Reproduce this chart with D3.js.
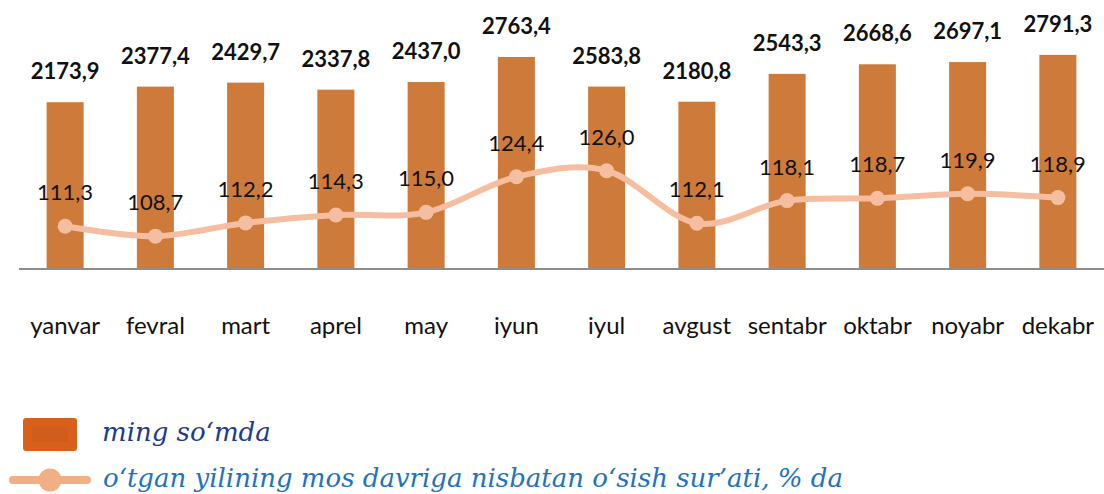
<!DOCTYPE html>
<html><head><meta charset="utf-8">
<script src="https://cdn.jsdelivr.net/npm/d3@7"></script>
<style>
html,body{margin:0;padding:0;background:#fff;}
svg{display:block;}
</style></head>
<body>
<svg id="chart" width="1104" height="494"></svg>
<script>
const months = ["yanvar","fevral","mart","aprel","may","iyun","iyul","avgust","sentabr","oktabr","noyabr","dekabr"];
// bar heights as drawn in the reference (the iyul bar is drawn at about 2378 there)
const barValues = [2173.9,2377.4,2429.7,2337.8,2437.0,2763.4,2378.0,2180.8,2543.3,2668.6,2697.1,2791.3];
const barLabels = ["2173,9","2377,4","2429,7","2337,8","2437,0","2763,4","2583,8","2180,8","2543,3","2668,6","2697,1","2791,3"];
const growth = [111.3,108.7,112.2,114.3,115.0,124.4,126.0,112.1,118.1,118.7,119.9,118.9];
const legendLabels = ["ming so\u2018mda","o\u2018tgan yilining mos davriga nisbatan o\u2018sish sur\u2019ati, % da"];

const fmt = v => v.toFixed(1).replace(".", ",");
const svg = d3.select("#chart");

const x = d3.scaleBand().domain(months).range([20, 1103]).paddingInner(0.59).paddingOuter(0.295);
const y = d3.scaleLinear().domain([0, 3500]).range([269, 0.5]);
const y2 = d3.scaleLinear().domain([100, 171.2]).range([269, 0]);

// bars
svg.append("g").selectAll("rect").data(months).join("rect")
  .attr("x", d => x(d))
  .attr("width", x.bandwidth())
  .attr("y", (d,i) => y(barValues[i]))
  .attr("height", (d,i) => y(0) - y(barValues[i]))
  .attr("fill", "#CD7A3A");

// axis
const ax = svg.append("g").attr("transform", "translate(0,269)")
  .call(d3.axisBottom(x).tickSize(0).tickPadding(0).tickSizeOuter(0));
ax.select(".domain").attr("stroke", "#8E8E8E").attr("stroke-width", 2.2).attr("d", "M19,0H1104");
ax.selectAll(".tick text")
  .attr("y", 65).attr("dy", 0)
  .attr("font-family", "Lato, 'Open Sans', sans-serif")
  .attr("font-size", 24).attr("fill", "#111");

// bar labels
svg.append("g").selectAll("text").data(months).join("text")
  .attr("x", d => x(d) + x.bandwidth()/2)
  .attr("y", (d,i) => y(barValues[i]) - 23)
  .attr("text-anchor", "middle")
  .attr("font-family", "Lato, sans-serif")
  .attr("font-weight", "bold").attr("font-size", 22).attr("fill", "#111")
  .text((d,i) => barLabels[i]);

// line
const cx = d => x(d) + x.bandwidth()/2;
const line = d3.line().x((d,i) => cx(months[i])).y(d => y2(d)).curve(d3.curveCatmullRom.alpha(0));
svg.append("path").datum(growth).attr("d", line)
  .attr("fill", "none").attr("stroke", "#F5BEA0").attr("stroke-width", 6).attr("stroke-linecap", "round");
svg.append("g").selectAll("circle").data(growth).join("circle")
  .attr("cx", (d,i) => cx(months[i])).attr("cy", d => y2(d)).attr("r", 7.5)
  .attr("fill", "#F5BEA0");
svg.append("g").selectAll("text").data(growth).join("text")
  .attr("x", (d,i) => cx(months[i]))
  .attr("y", d => y2(d) - 26)
  .attr("text-anchor", "middle")
  .attr("font-family", "Lato, sans-serif")
  .attr("font-size", 22).attr("fill", "#111")
  .text(d => fmt(d));

// legend
const lg = svg.append("g");
lg.append("rect").attr("x", 23).attr("y", 418).attr("width", 54).attr("height", 33).attr("rx", 3).attr("fill", "#D9601A");
lg.append("rect").attr("x", 32).attr("y", 427).attr("width", 36).attr("height", 15).attr("fill", "#CF5E1E");
lg.append("text").attr("x", 102).attr("y", 441)
  .attr("font-family", "'DejaVu Serif', serif").attr("font-style", "italic")
  .attr("font-size", 26).attr("fill", "#1F3B8C").text(legendLabels[0]);
lg.append("line").attr("x1", 13).attr("x2", 87).attr("y1", 480).attr("y2", 480)
  .attr("stroke", "#F2AE84").attr("stroke-width", 8).attr("stroke-linecap", "round");
lg.append("circle").attr("cx", 50).attr("cy", 480).attr("r", 11.5).attr("fill", "#F2AE84");
lg.append("text").attr("x", 103).attr("y", 487)
  .attr("font-family", "'DejaVu Serif', serif").attr("font-style", "italic")
  .attr("font-size", 26).attr("fill", "#1E73BE").text(legendLabels[1]);
</script>
</body></html>
